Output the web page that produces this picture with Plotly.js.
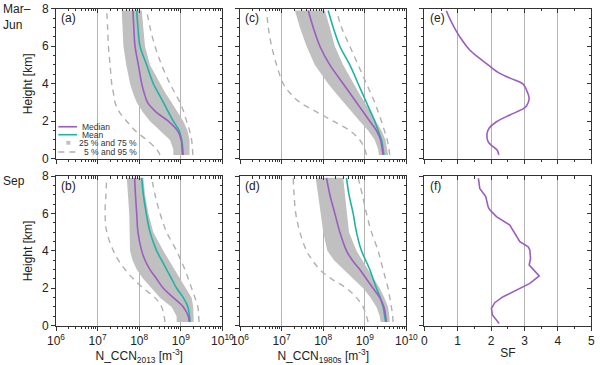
<!DOCTYPE html>
<html>
<head>
<meta charset="utf-8">
<script src="https://cdn.plot.ly/plotly-3.0.1.min.js"></script>
<style>
  html, body { margin: 0; padding: 0; background: #fff; }
  #chart { width: 600px; height: 365px; }
</style>
</head>
<body>
<div id="chart"></div>
<script>
// heights [km] used for all N_CCN profiles
const heights = [0.2, 0.5, 1, 1.5, 2, 2.5, 3, 3.5, 4, 5, 6, 7, 7.9];

// log10 N_CCN [m^-3]
// (a) Mar-Jun, 2013
const aMedian = [9.04, 9.03, 9.01, 8.92, 8.70, 8.40, 8.20, 8.12, 8.06, 7.98, 7.90, 7.87, 7.85];
const aMean   = [9.06, 9.05, 9.02, 8.96, 8.82, 8.70, 8.58, 8.46, 8.34, 8.18, 8.02, 7.97, 7.94];
const aP25    = [8.82, 8.82, 8.74, 8.50, 8.26, 8.08, 7.94, 7.85, 7.78, 7.69, 7.62, 7.60, 7.58];
const aP75    = [9.21, 9.21, 9.21, 9.16, 9.06, 8.93, 8.78, 8.63, 8.50, 8.26, 8.14, 8.09, 8.06];
const aP5     = [8.50, 8.42, 8.18, 7.90, 7.70, 7.52, 7.42, 7.38, 7.34, 7.30, 7.26, 7.24, 7.22];
const aP95    = [9.29, 9.28, 9.26, 9.21, 9.14, 9.07, 8.98, 8.86, 8.74, 8.54, 8.38, 8.26, 8.18];

// (b) Sep, 2013
const bMedian = [9.20, 9.18, 9.06, 8.82, 8.58, 8.42, 8.26, 8.14, 8.06, 7.97, 7.94, 7.91, 7.89];
const bMean   = [9.22, 9.21, 9.17, 9.06, 8.90, 8.78, 8.66, 8.54, 8.42, 8.26, 8.17, 8.10, 8.06];
const bP25    = [8.90, 8.90, 8.78, 8.50, 8.30, 8.10, 7.94, 7.84, 7.78, 7.77, 7.76, 7.73, 7.70];
const bP75    = [9.31, 9.31, 9.30, 9.26, 9.14, 9.00, 8.86, 8.72, 8.58, 8.34, 8.22, 8.14, 8.10];
const bP5     = [8.62, 8.60, 8.54, 8.38, 8.10, 7.86, 7.66, 7.50, 7.38, 7.22, 7.18, 7.20, 7.22];
const bP95    = [9.44, 9.43, 9.41, 9.34, 9.26, 9.18, 9.10, 9.00, 8.90, 8.66, 8.50, 8.38, 8.30];

// (c) Mar-Jun, 1980s
const cMedian = [9.44, 9.42, 9.38, 9.28, 9.12, 8.96, 8.80, 8.64, 8.48, 8.16, 7.92, 7.76, 7.64];
const cMean   = [9.46, 9.44, 9.40, 9.32, 9.24, 9.14, 9.04, 8.94, 8.84, 8.64, 8.40, 8.24, 8.12];
const cP25    = [9.34, 9.32, 9.24, 9.08, 8.88, 8.68, 8.48, 8.30, 8.12, 7.80, 7.60, 7.44, 7.32];
const cP75    = [9.56, 9.54, 9.50, 9.40, 9.28, 9.14, 9.00, 8.86, 8.72, 8.48, 8.28, 8.16, 8.04];
const cP5     = [9.04, 9.00, 8.88, 8.64, 8.24, 7.84, 7.44, 7.20, 7.04, 6.88, 6.76, 6.68, 6.64];
const cP95    = [9.60, 9.58, 9.54, 9.47, 9.40, 9.32, 9.24, 9.14, 9.04, 8.84, 8.64, 8.44, 8.32];

// (d) Sep, 1980s
const dMedian = [9.52, 9.50, 9.46, 9.36, 9.20, 9.04, 8.88, 8.70, 8.56, 8.40, 8.28, 8.16, 8.08];
const dMean   = [9.50, 9.48, 9.44, 9.37, 9.28, 9.20, 9.12, 9.02, 8.92, 8.80, 8.72, 8.62, 8.56];
const dP25    = [9.38, 9.36, 9.28, 9.14, 8.96, 8.72, 8.48, 8.26, 8.10, 8.00, 7.94, 7.88, 7.82];
const dP75    = [9.60, 9.59, 9.56, 9.47, 9.36, 9.22, 9.08, 8.94, 8.80, 8.62, 8.56, 8.52, 8.48];
const dP5     = [9.08, 9.04, 8.96, 8.80, 8.56, 8.20, 7.92, 7.74, 7.60, 7.44, 7.34, 7.30, 7.28];
const dP95    = [9.68, 9.67, 9.64, 9.60, 9.56, 9.50, 9.44, 9.38, 9.32, 9.16, 9.04, 8.94, 8.84];

// (e) SF, Mar-Jun
const eHeight = [7.89, 7.4, 6.86, 6.51, 5.8, 5.35, 5.0, 4.55, 4.23, 3.98, 3.66, 3.22, 2.81, 2.68, 2.33, 1.97, 1.62, 1.35, 0.91, 0.64, 0.46, 0.2];
const eSF     = [0.66, 0.78, 0.94, 1.06, 1.36, 1.66, 1.91, 2.26, 2.66, 2.96, 3.06, 3.14, 3.06, 2.98, 2.56, 2.16, 1.94, 1.88, 1.91, 2.06, 2.18, 2.23];

// (f) SF, Sep
const fHeight = [7.88, 7.34, 6.9, 6.36, 6.19, 5.83, 5.38, 4.94, 4.49, 4.22, 4.05, 3.6, 3.24, 3.01, 2.66, 2.26, 1.91, 1.55, 1.23, 0.93, 0.57, 0.21, 0.12];
const fSF     = [1.62, 1.66, 1.84, 1.91, 1.96, 2.16, 2.56, 2.71, 2.86, 3.11, 3.16, 3.18, 3.14, 3.26, 3.44, 3.16, 2.76, 2.36, 2.11, 2.01, 2.04, 2.21, 2.24];

const logTickVals = [1e6, 1e7, 1e8, 1e9, 1e10];
const logTickText = ['10<sup>6</sup>', '10<sup>7</sup>', '10<sup>8</sup>', '10<sup>9</sup>', '10<sup>10</sup>'];
const sfTickVals = [0, 1, 2, 3, 4, 5];
const heightTicks = [0, 2, 4, 6, 8];
const heightMinor = [0.5, 1, 1.5, 2.5, 3, 3.5, 4.5, 5, 5.5, 6.5, 7, 7.5];

const FONT = 'Liberation Sans, Arial, sans-serif';
const PURPLE = '#9b5dbf', TEAL = '#1fb3a3', BAND = '#c0c0c0', DASHC = '#b0b0b0', AX = '#333';

const W = 600, H = 365;
const colPx = [[56, 222.4], [240, 406.4], [424.3, 591.3]];
const rowPx = [[8.7, 158.7], [176, 325.7]];

const toN = arr => arr.map(v => Math.pow(10, v));

const panels = [
  {row: 0, col: 0, label: '(a)', ccn: [aMedian, aMean, aP25, aP75, aP5, aP95]},
  {row: 0, col: 1, label: '(c)', ccn: [cMedian, cMean, cP25, cP75, cP5, cP95]},
  {row: 0, col: 2, label: '(e)', sf: [eSF, eHeight], spline: true},
  {row: 1, col: 0, label: '(b)', ccn: [bMedian, bMean, bP25, bP75, bP5, bP95]},
  {row: 1, col: 1, label: '(d)', ccn: [dMedian, dMean, dP25, dP75, dP5, dP95]},
  {row: 1, col: 2, label: '(f)', sf: [fSF, fHeight], spline: false}
];

const logMinor = [];
for (let d = 6; d < 10; d++) for (let k = 2; k <= 9; k++) logMinor.push(k * Math.pow(10, d));
const halfMinor = (lo, hi) => { const m = []; for (let v = lo + 0.5; v < hi; v += 1) m.push(v); return m; };

const traces = [];
const layout = {
  width: W, height: H,
  margin: {l: 0, r: 0, t: 0, b: 0},
  paper_bgcolor: '#fff', plot_bgcolor: 'rgba(0,0,0,0)',
  font: {family: FONT, size: 12, color: '#222'},
  showlegend: false,
  annotations: [], shapes: []
};

panels.forEach((p, i) => {
  const id = i + 1, oid = i + 7;
  const xs = id === 1 ? '' : id, ys = id === 1 ? '' : id;
  const xd = [colPx[p.col][0] / W, colPx[p.col][1] / W];
  const yd = [1 - rowPx[p.row][1] / H, 1 - rowPx[p.row][0] / H];
  const isLog = !!p.ccn;
  const bottom = p.row === 1;

  const xBase = isLog
    ? {type: 'log', range: [6, 10], tickmode: 'array', tickvals: logTickVals, ticktext: logTickText}
    : {type: 'linear', range: [0, 5], tickmode: 'array', tickvals: sfTickVals};
  const xMinor = isLog ? logMinor : halfMinor(0, 5);

  let xTitle = '';
  if (bottom) {
    xTitle = p.col === 0 ? 'N_CCN<sub>2013</sub> [m<sup>-3</sup>]'
      : p.col === 1 ? 'N_CCN<sub>1980s</sub> [m<sup>-3</sup>]' : 'SF';
  }

  layout['xaxis' + xs] = Object.assign({}, xBase, {
    domain: xd, anchor: 'y' + ys,
    ticks: 'outside', ticklen: 4, tickcolor: AX, tickwidth: 1,
    showline: true, linecolor: AX, linewidth: 1,
    showgrid: true, gridcolor: '#b4b4b4', gridwidth: 1, zeroline: false,
    minor: {tickmode: 'array', tickvals: xMinor, ticks: 'outside', ticklen: 2.5, tickcolor: AX, showgrid: false},
    showticklabels: bottom, tickfont: {size: 12, color: '#222'},
    title: {text: xTitle, font: {size: 12}, standoff: 1}
  });
  layout['yaxis' + ys] = {
    domain: yd, anchor: 'x' + xs, range: [0, 8],
    tickmode: 'array', tickvals: heightTicks,
    ticks: 'outside', ticklen: 4, tickcolor: AX, tickwidth: 1,
    showline: true, linecolor: AX, linewidth: 1,
    showgrid: false, zeroline: false,
    minor: {tickmode: 'array', tickvals: heightMinor, ticks: 'outside', ticklen: 2.5, tickcolor: AX, showgrid: false},
    showticklabels: p.col === 0, tickfont: {size: 12, color: '#222'}
  };
  // top and right frame with inward ticks
  layout['xaxis' + oid] = Object.assign({}, xBase, {
    overlaying: 'x' + xs, anchor: 'y' + ys, side: 'top',
    ticks: 'inside', ticklen: 4, tickcolor: AX,
    showline: true, linecolor: AX, linewidth: 1,
    showgrid: false, zeroline: false, showticklabels: false,
    minor: {tickmode: 'array', tickvals: xMinor, ticks: 'inside', ticklen: 2.5, tickcolor: AX, showgrid: false}
  });
  layout['yaxis' + oid] = {
    overlaying: 'y' + ys, anchor: 'x' + xs, side: 'right', range: [0, 8],
    tickmode: 'array', tickvals: heightTicks,
    ticks: 'inside', ticklen: 4, tickcolor: AX,
    showline: true, linecolor: AX, linewidth: 1,
    showgrid: false, zeroline: false, showticklabels: false,
    minor: {tickmode: 'array', tickvals: heightMinor, ticks: 'inside', ticklen: 2.5, tickcolor: AX, showgrid: false}
  };
  traces.push({x: [], y: [], xaxis: 'x' + oid, yaxis: 'y' + ys, type: 'scatter', hoverinfo: 'skip'});
  traces.push({x: [], y: [], xaxis: 'x' + xs, yaxis: 'y' + oid, type: 'scatter', hoverinfo: 'skip'});

  const ax = {xaxis: 'x' + xs, yaxis: 'y' + ys, type: 'scatter', hoverinfo: 'skip'};
  if (isLog) {
    const [med, mean, p25, p75, p5, p95] = p.ccn;
    traces.push(Object.assign({}, ax, {
      x: toN(p25).concat(toN(p75).reverse()),
      y: heights.concat(heights.slice().reverse()),
      mode: 'lines', fill: 'toself', fillcolor: BAND, line: {width: 0, color: BAND}
    }));
    [p5, p95].forEach(s => traces.push(Object.assign({}, ax, {
      x: toN(s), y: heights, mode: 'lines',
      line: {color: DASHC, width: 1.4, dash: '6px,5px', shape: 'spline'}
    })));
    traces.push(Object.assign({}, ax, {x: toN(mean), y: heights, mode: 'lines', line: {color: TEAL, width: 1.6, shape: 'spline'}}));
    traces.push(Object.assign({}, ax, {x: toN(med), y: heights, mode: 'lines', line: {color: PURPLE, width: 1.6, shape: 'spline'}}));
  } else {
    traces.push(Object.assign({}, ax, {x: p.sf[0], y: p.sf[1], mode: 'lines', line: {color: PURPLE, width: 1.6, shape: p.spline ? 'spline' : 'linear'}}));
  }

  layout.annotations.push({
    xref: 'x' + xs + ' domain', yref: 'y' + ys + ' domain', x: 0.02, y: 0.995,
    xanchor: 'left', yanchor: 'top', showarrow: false, text: p.label, font: {size: 12, color: '#222'}
  });
  if (p.col === 0) {
    layout.annotations.push({
      xref: 'paper', yref: 'y' + ys + ' domain', x: 27.5 / W, y: 0.5, textangle: -90,
      xanchor: 'center', yanchor: 'middle', showarrow: false, text: 'Height [km]', font: {size: 12, color: '#222'}
    });
  }
});

// row labels
layout.annotations.push({xref: 'paper', yref: 'paper', x: 0.002, y: 1.0, xanchor: 'left', yanchor: 'top', align: 'left',
  showarrow: false, text: 'Mar–<br>Jun', font: {size: 12, color: '#222'}});
layout.annotations.push({xref: 'paper', yref: 'paper', x: 0.002, y: 1 - 172 / H, xanchor: 'left', yanchor: 'top', align: 'left',
  showarrow: false, text: 'Sep', font: {size: 12, color: '#222'}});

// legend in panel (a)
const lx = 'x domain', ly = 'y domain';
const legRows = [0.213, 0.160, 0.106, 0.045];
layout.shapes.push({type: 'line', xref: lx, yref: ly, x0: 0.014, x1: 0.126, y0: legRows[0], y1: legRows[0], line: {color: PURPLE, width: 1.6}});
layout.shapes.push({type: 'line', xref: lx, yref: ly, x0: 0.014, x1: 0.126, y0: legRows[1], y1: legRows[1], line: {color: TEAL, width: 1.6}});
layout.shapes.push({type: 'rect', xref: lx, yref: ly, x0: 0.062, x1: 0.086, y0: legRows[2] - 0.013, y1: legRows[2] + 0.013, line: {width: 0}, fillcolor: BAND});
layout.shapes.push({type: 'line', xref: lx, yref: ly, x0: 0.014, x1: 0.126, y0: legRows[3], y1: legRows[3], line: {color: DASHC, width: 1.4, dash: '6px,5px'}});
const legText = ['Median', 'Mean', '25 % and 75 %', '5 % and 95 %'];
legText.forEach((t, k) => {
  layout.annotations.push({xref: lx, yref: ly, x: k < 2 ? 0.148 : 0.49, y: legRows[k],
    xanchor: k < 2 ? 'left' : 'right', yanchor: 'middle', showarrow: false, text: t,
    font: {size: 8.5, color: '#333'}, borderpad: 0});
});

Plotly.newPlot('chart', traces, layout, {staticPlot: true});
</script>
</body>
</html>
